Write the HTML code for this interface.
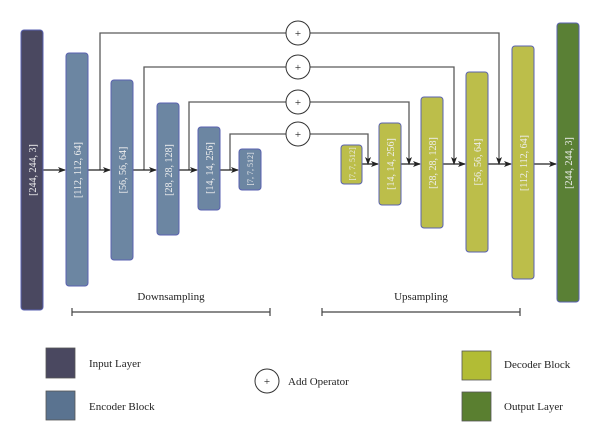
<!DOCTYPE html>
<html><head><meta charset="utf-8"><style>
body{margin:0;background:#fff;}
svg text{font-family:"Liberation Serif",serif;}
</style></head><body>
<svg width="600" height="430" viewBox="0 0 600 430" xmlns="http://www.w3.org/2000/svg">
<defs><marker id="a" markerWidth="8" markerHeight="8" refX="7" refY="4" orient="auto" markerUnits="userSpaceOnUse"><path d="M0,1 L8,4 L0,7 L2,4 Z" fill="#222"/></marker></defs>
<g stroke="#5a5a5a" stroke-width="1.3" fill="none">
<path d="M100,170 V33 H286"/><path d="M310,33 H499 V164" marker-end="url(#a)"/>
<path d="M144,170 V67 H286"/><path d="M310,67 H454 V164" marker-end="url(#a)"/>
<path d="M189,170 V102 H286"/><path d="M310,102 H409 V164" marker-end="url(#a)"/>
<path d="M230,170 V134 H286"/><path d="M310,134 H368 V164" marker-end="url(#a)"/>
</g>
<g stroke="#222" stroke-width="1.3" fill="none">
<path d="M43,170 H65" marker-end="url(#a)"/>
<path d="M88,170 H110" marker-end="url(#a)"/>
<path d="M133,170 H156" marker-end="url(#a)"/>
<path d="M179,170 H197" marker-end="url(#a)"/>
<path d="M220,170 H238" marker-end="url(#a)"/>
<path d="M362,164 H378" marker-end="url(#a)"/>
<path d="M401,164 H420" marker-end="url(#a)"/>
<path d="M443,164 H465" marker-end="url(#a)"/>
<path d="M488,164 H511" marker-end="url(#a)"/>
<path d="M534,164 H556" marker-end="url(#a)"/>
</g>
<g fill="#fff" stroke="#333" stroke-width="1">
<circle cx="298" cy="33" r="12"/><circle cx="298" cy="67" r="12"/><circle cx="298" cy="102" r="12"/><circle cx="298" cy="134" r="12"/>
</g>
<g font-size="11" text-anchor="middle" fill="#222"><text x="298" y="37">+</text><text x="298" y="71">+</text><text x="298" y="106">+</text><text x="298" y="138">+</text></g>
<g stroke="#5a62b0" stroke-width="1">
<rect x="21" y="30" width="22" height="280" rx="3" fill="#4a4860"/>
<rect x="66" y="53" width="22" height="233" rx="3" fill="#6c86a2"/>
<rect x="111" y="80" width="22" height="180" rx="3" fill="#6c86a2"/>
<rect x="157" y="103" width="22" height="132" rx="3" fill="#6c86a2"/>
<rect x="198" y="127" width="22" height="83" rx="3" fill="#6c86a2"/>
<rect x="239" y="149" width="22" height="41" rx="3" fill="#6c86a2"/>
<rect x="341" y="145" width="21" height="39" rx="3" fill="#bcbe4a"/>
<rect x="379" y="123" width="22" height="82" rx="3" fill="#bcbe4a"/>
<rect x="421" y="97" width="22" height="131" rx="3" fill="#bcbe4a"/>
<rect x="466" y="72" width="22" height="180" rx="3" fill="#bcbe4a"/>
<rect x="512" y="46" width="22" height="233" rx="3" fill="#bcbe4a"/>
<rect x="557" y="23" width="22" height="279" rx="3" fill="#5a8035"/>
</g>
<g font-size="10" fill="#eee" text-anchor="middle">
<text transform="translate(36,170) rotate(-90)">[244, 244, 3]</text>
<text transform="translate(81,170) rotate(-90)">[112, 112, 64]</text>
<text transform="translate(126,170) rotate(-90)">[56, 56, 64]</text>
<text transform="translate(172,170) rotate(-90)">[28, 28, 128]</text>
<text transform="translate(213,168) rotate(-90)">[14, 14, 256]</text>
<text transform="translate(253,169) rotate(-90)" font-size="8">[7, 7, 512]</text>
<text transform="translate(355,164) rotate(-90)" font-size="8">[7, 7, 512]</text>
<text transform="translate(394,164) rotate(-90)">[14, 14, 256]</text>
<text transform="translate(436,163) rotate(-90)">[28, 28, 128]</text>
<text transform="translate(481,162) rotate(-90)">[56, 56, 64]</text>
<text transform="translate(527,163) rotate(-90)">[112, 112, 64]</text>
<text transform="translate(572,163) rotate(-90)">[244, 244, 3]</text>
</g>
<g font-size="11" fill="#222">
<text x="171" y="300" text-anchor="middle">Downsampling</text>
<text x="421" y="300" text-anchor="middle">Upsampling</text>
</g>
<g stroke="#444" stroke-width="1.2">
<path d="M72,312 H270 M72,308 V316 M270,308 V316"/>
<path d="M322,312 H520 M322,308 V316 M520,308 V316"/>
</g>
<g stroke="#555" stroke-width="0.8">
<rect x="46" y="348" width="29" height="30" fill="#4a4860"/>
<rect x="46" y="391" width="29" height="29" fill="#5a7390"/>
<rect x="462" y="351" width="29" height="29" fill="#b2bc35"/>
<rect x="462" y="392" width="29" height="29" fill="#5a7f30"/>
</g>
<circle cx="267" cy="381" r="12" fill="#fff" stroke="#333" stroke-width="1"/>
<g font-size="11" fill="#222">
<text x="267" y="385" text-anchor="middle">+</text>
<text x="89" y="367">Input Layer</text>
<text x="89" y="410">Encoder Block</text>
<text x="288" y="385">Add Operator</text>
<text x="504" y="368">Decoder Block</text>
<text x="504" y="410">Output Layer</text>
</g>
</svg>
</body></html>
